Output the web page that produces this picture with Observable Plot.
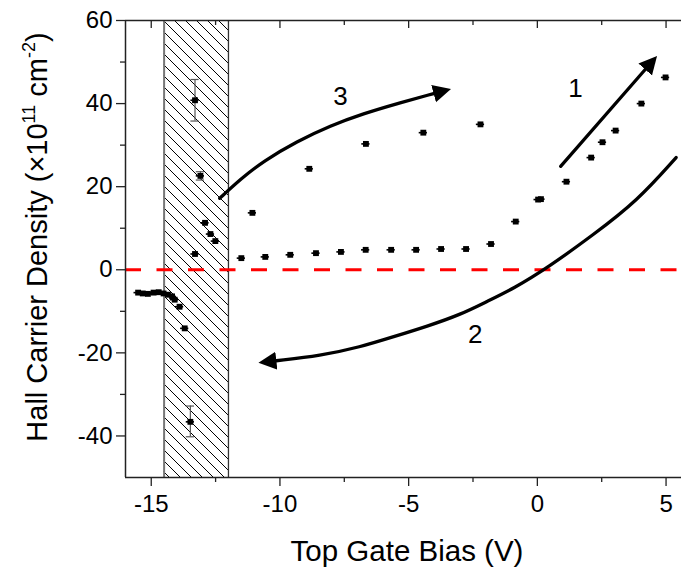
<!DOCTYPE html>
<html><head><meta charset="utf-8">
<script src="https://cdn.jsdelivr.net/npm/d3@7"></script>
<script src="https://cdn.jsdelivr.net/npm/@observablehq/plot@0.6"></script>
<style>body{margin:0;background:#fff} svg{display:block}</style>
</head><body><div id="chart"></div>
<script>
// ---- data ----
// lower branch (sweep 1, rising to the right)
const lowerX = [-11.50,-10.57,-9.60,-8.60,-7.63,-6.67,-5.68,-4.71,-3.74,-2.77,-1.80,-0.84,0.03,0.14,1.13,2.09,2.53,3.04,4.04,4.98];
const lowerY = [2.8,3.1,3.6,4.0,4.3,4.8,4.8,4.8,5.0,5.0,6.2,11.6,16.9,17.0,21.2,27.0,30.7,33.5,40.0,46.3];
// upper branch (sweep 3)
const upperX = [-11.07,-8.86,-6.66,-4.43,-2.21];
const upperY = [13.7,24.3,30.3,33.0,35.0];
// points inside the hatched region
const hatchPtsX = [-13.30,-13.09,-12.91,-12.70,-12.51,-13.30];
const hatchPtsY = [40.8,22.6,11.3,8.6,6.9,3.8];
// negative cluster
const negX = [-15.51,-15.33,-15.13,-14.91,-14.71,-14.52,-14.35,-14.19,-14.09,-13.90,-13.70,-13.48];
const negY = [-5.5,-5.7,-5.8,-5.5,-5.4,-5.7,-6.0,-6.4,-7.2,-8.9,-14.1,-36.6];
// error bars
const errX = [-13.30,-13.09,-13.48];
const errLow = [35.8,21.6,-40.2];
const errHigh = [45.8,23.6,-32.8];
// hatched gate-bias region
const hatchFrom = -14.5, hatchTo = -12;
// annotation arrows (data units)
const arrow1X = [0.905, 4.19];
const arrow1Y = [24.9, 48.2];
const arrow2X = [5.39, 3.87, 2.19, 0.38, -0.92, -1.95, -2.99, -4.28, -5.58, -6.88, -8.43, -10.14];
const arrow2Y = [27.0, 16.5, 8.5, 0.4, -4.5, -7.6, -10.8, -13.6, -16.1, -18.6, -20.7, -21.9];
const arrow3X = [-12.34, -11.5, -10.63, -9.34, -8.04, -6.75, -5.45, -4.03];
const arrow3Y = [17.2, 22.0, 26.2, 30.9, 34.7, 37.6, 40.0, 42.4];
const labelText = ["1","2","3"];
const labelX = [1.48,-2.41,-7.65];
const labelY = [43.6,-15.6,41.7];
// ticks
const xMajor = [-15,-10,-5,0,5];
const xMinor = [-12.5,-7.5,-2.5,2.5];
const yMajor = [-40,-20,0,20,40,60];
const yMinor = [-30,-10,10,30,50];

const zip = (xs, ys) => xs.map((x,i)=>({x, y: ys[i]}));
const pts = [...zip(lowerX,lowerY), ...zip(upperX,upperY), ...zip(hatchPtsX,hatchPtsY), ...zip(negX,negY)];
const errs = errX.map((x,i)=>({x, lo: errLow[i], hi: errHigh[i]}));
const labels = labelText.map((t,i)=>({t, x: labelX[i], y: labelY[i]}));

const font = "'Liberation Sans', Arial, Helvetica, sans-serif";
const H = 569, mt = 20, mb = 92, fh = H - mt - mb;
const axisCol = "#222";

const svgEl = Plot.plot({
  width: 681, height: H,
  marginLeft: 125, marginRight: 0, marginTop: mt, marginBottom: mb,
  style: {fontFamily: font, background: "white", color: "#000", overflow: "visible"},
  x: {domain: [-16, 5.6]},
  y: {domain: [-50, 60]},
  marks: [
    Plot.rect([{x1: hatchFrom, x2: hatchTo}], {x1: "x1", x2: "x2", fill: "url(#hatch)"}),
    Plot.ruleX([hatchFrom], {stroke: "#777", strokeWidth: 2}),
    Plot.ruleX([hatchTo], {stroke: "#333", strokeWidth: 1.3}),
    Plot.ruleY([0], {stroke: "#f00", strokeWidth: 3, strokeDasharray: "16 15.5"}),
    // frame lines
    Plot.ruleY([60, -50], {stroke: axisCol, strokeWidth: 1.5}),
    Plot.ruleX([-16], {stroke: axisCol, strokeWidth: 1.5}),
    // inward top ticks
    Plot.ruleX(xMajor, {stroke: axisCol, strokeWidth: 1.3, insetBottom: fh - 8}),
    Plot.ruleX(xMinor, {stroke: axisCol, strokeWidth: 1.3, insetBottom: fh - 5}),
    // axes
    Plot.axisX({ticks: xMajor, tickSize: 9, tickPadding: 8, fontSize: 24, label: null, tickFormat: d => String(d), stroke: axisCol, strokeWidth: 1.3}),
    Plot.axisX({ticks: xMinor, tickSize: 5, label: null, tickFormat: () => "", stroke: axisCol, strokeWidth: 1.3}),
    Plot.axisY({ticks: yMajor, tickSize: 9, tickPadding: 4, fontSize: 24, label: null, tickFormat: d => String(d), stroke: axisCol, strokeWidth: 1.3}),
    Plot.axisY({ticks: yMinor, tickSize: 5, label: null, tickFormat: () => "", stroke: axisCol, strokeWidth: 1.3}),
    // error bars
    Plot.ruleX(errs, {x: "x", y1: "lo", y2: "hi", stroke: "#555", strokeWidth: 1.2}),
    Plot.ruleY(errs, {y: "lo", x1: d => d.x - 0.16, x2: d => d.x + 0.16, stroke: "#555", strokeWidth: 1.2}),
    Plot.ruleY(errs, {y: "hi", x1: d => d.x - 0.16, x2: d => d.x + 0.16, stroke: "#555", strokeWidth: 1.2}),
    // data: small horizontal whiskers + square markers
    Plot.ruleY(pts, {y: "y", x1: d => d.x - 0.16, x2: d => d.x + 0.16, stroke: "#000", strokeWidth: 1.6}),
    Plot.dot(pts, {x: "x", y: "y", symbol: "square", r: 3.3, fill: "#000", stroke: "none"}),
    // arrows
    Plot.line(zip(arrow1X, arrow1Y), {x: "x", y: "y", stroke: "#000", strokeWidth: 3.3}),
    Plot.line(zip(arrow2X, arrow2Y), {x: "x", y: "y", stroke: "#000", strokeWidth: 3.3, curve: "basis"}),
    Plot.line(zip(arrow3X, arrow3Y), {x: "x", y: "y", stroke: "#000", strokeWidth: 3.3, curve: "basis"}),
    Plot.text(labels, {x: "x", y: "y", text: "t", fontSize: 26, fill: "#000"})
  ]
});

const svg = d3.select(svgEl);
const defs = svg.insert("defs", ":first-child");
const pat = defs.append("pattern").attr("id", "hatch").attr("patternUnits", "userSpaceOnUse")
  .attr("width", 11).attr("height", 11);
pat.append("path").attr("d", "M0,0L11,11M-1,10L1,12M10,-1L12,1")
  .attr("stroke", "#000").attr("stroke-width", 1).attr("fill", "none");
const mk = defs.append("marker").attr("id", "ah").attr("markerUnits", "userSpaceOnUse")
  .attr("markerWidth", 19).attr("markerHeight", 19).attr("viewBox", "0 -9.5 19 19")
  .attr("refX", 0).attr("refY", 0).attr("orient", "auto");
mk.append("path").attr("d", "M0,-9L18,0L0,9Z").attr("fill", "#000");
svg.selectAll('g[aria-label="line"] path').attr("marker-end", "url(#ah)");

// axis titles
svg.append("text").attr("x", 407).attr("y", 561).attr("text-anchor", "middle")
  .attr("font-size", 29.5).attr("fill", "#000").attr("font-family", font).text("Top Gate Bias (V)");
const yt = svg.append("text").attr("transform", "translate(47,237) rotate(-90)")
  .attr("text-anchor", "middle").attr("font-size", 29).attr("fill", "#000").attr("font-family", font);
yt.append("tspan").text("Hall Carrier Density (×10");
yt.append("tspan").attr("font-size", 18).attr("dy", -12).text("11");
yt.append("tspan").attr("font-size", 29).attr("dy", 12).text(" cm");
yt.append("tspan").attr("font-size", 18).attr("dy", -12).text("-2");
yt.append("tspan").attr("font-size", 29).attr("dy", 12).text(")");

document.getElementById("chart").appendChild(svgEl);
</script>
</body></html>
